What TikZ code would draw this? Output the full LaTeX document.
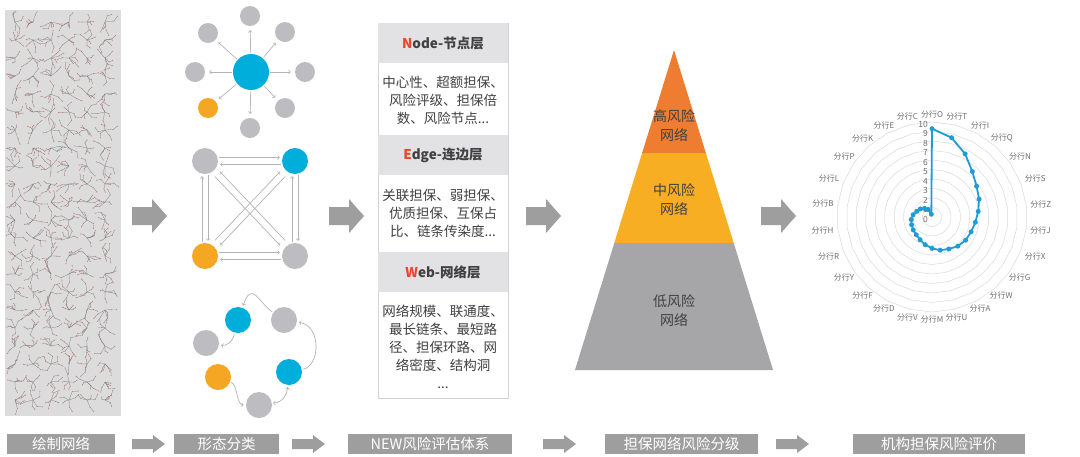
\documentclass[tikz,border=0pt]{standalone}
\usepackage{fontspec}
\setmainfont{Noto Sans CJK SC}
\usepackage{tikz}
\usetikzlibrary{calc}

\definecolor{hubblue}{HTML}{00AEDB}
\definecolor{nodegray}{HTML}{BDBDC1}
\definecolor{nodeorange}{HTML}{F5A623}
\definecolor{linkgray}{HTML}{B4B4B8}
\definecolor{arrowgray}{HTML}{9E9E9E}
\definecolor{panelgray}{HTML}{DCDCDC}
\definecolor{headgray}{HTML}{E2E2E4}
\definecolor{framegray}{HTML}{D4D4D4}
\definecolor{textdark}{HTML}{404040}
\definecolor{riskred}{HTML}{E8472B}
\definecolor{highrisk}{HTML}{EF7D31}
\definecolor{midrisk}{HTML}{F8AE22}
\definecolor{lowrisk}{HTML}{A6A6A9}
\definecolor{ringgray}{HTML}{DADADA}
\definecolor{seriesblue}{HTML}{1F9BD5}
\definecolor{labelgray}{HTML}{6E6E6E}
\definecolor{netgray}{HTML}{707070}
\definecolor{netred}{HTML}{D0706C}

\tikzset{
  ball/.style={circle, fill=nodegray, inner sep=0pt, minimum size=20pt},
  hub/.style={ball, fill=hubblue, minimum size=36pt},
  bigball/.style={ball, minimum size=26pt},
  link/.style={->, linkgray, line width=0.7pt, shorten >=2pt, shorten <=1pt},
  layerhead/.style={fill=headgray, minimum width=130pt, minimum height=40pt, inner sep=0pt,
    font=\bfseries\fontsize{13.5}{16}\selectfont, text=textdark},
  layerbody/.style={font=\fontsize{13.5}{18}\selectfont, text=textdark, align=center, inner sep=0pt},
  risktext/.style={font=\fontsize{14}{19}\selectfont, text=textdark, align=center},
  steplbl/.style={fill=arrowgray, text=white, font=\fontsize{14.5}{16}\selectfont,
    minimum height=20pt, inner sep=0pt},
  catlbl/.style={font=\fontsize{8}{8}\selectfont, text=labelgray, inner sep=1pt},
  ticklbl/.style={font=\fontsize{8.5}{8}\selectfont, text=labelgray, anchor=east, inner sep=1pt},
  ring/.style={ringgray, line width=0.5pt},
  series/.style={seriesblue, line width=1.8pt, line join=round},
  datadot/.style={circle, fill=seriesblue, inner sep=0pt, minimum size=5pt},
  netline/.style={netgray, line width=0.2pt},
  netdot/.style={circle, fill=netred, inner sep=0pt, minimum size=1pt},
  bigarrow/.pic={\fill[arrowgray] (0,-9) -- (20,-9) -- (20,-17) -- (35,0) -- (20,17) -- (20,9) -- (0,9) -- cycle;},
  smallarrow/.pic={\fill[arrowgray] (0,-5) -- (21,-5) -- (21,-9) -- (33,0) -- (21,9) -- (21,5) -- (0,5) -- cycle;}
}

\begin{document}
\begin{tikzpicture}[x=1pt,y=-1pt]
\useasboundingbox[fill=white] (0,0) rectangle (1080,456);

% networks drawn from the data
\fill[panelgray] (5,10) rectangle (121,416);
\begin{scope}
  \clip (6,11) rectangle (120,415);
  \pgfmathsetseed{42}
  \foreach \cy in {22,40,...,400}{
    \foreach \cx in {15,33,...,105}{
      \foreach \k in {1,...,5}{
        \pgfmathsetmacro{\ang}{360*rnd}
        \pgfmathsetmacro{\len}{3+6*rnd}
        \pgfmathsetmacro{\turn}{\ang+70*rand}
        \draw[netline] (\cx,\cy) -- ++(\ang:\len) node[netdot]{} -- ++(\turn:0.7*\len) node[netdot]{};
      }
    }
  }
\end{scope}

% star
\node[hub] (hub) at (251,72) {};
\node[ball] (s1) at (250,16) {};
\node[ball] (s2) at (285,32) {};
\node[ball] (s3) at (305,72) {};
\node[ball] (s4) at (285,108) {};
\node[ball] (s5) at (250,128) {};
\node[ball, fill=nodeorange] (s6) at (208,108) {};
\node[ball] (s7) at (195,72) {};
\node[ball] (s8) at (208,33) {};
\foreach \s in {s1,s2,s3,s4,s5,s6,s7,s8}
  \draw[link, shorten >=4pt] (hub) -- (\s);

% square
\node[bigball] (tl) at (205,161) {};
\node[bigball, fill=hubblue] (tr) at (295,161) {};
\node[bigball, fill=nodeorange] (bl) at (205,256) {};
\node[bigball] (br) at (295,256) {};
\draw[link, transform canvas={shift={(0,-3.5)}}] (tl) -- (tr);
\draw[link, transform canvas={shift={(0,3.5)}}] (tr) -- (tl);
\draw[link, transform canvas={shift={(0,-3.5)}}] (bl) -- (br);
\draw[link, transform canvas={shift={(0,3.5)}}] (br) -- (bl);
\draw[link, transform canvas={shift={(-3,0)}}] (bl) -- (tl);
\draw[link, transform canvas={shift={(3,0)}}] (tl) -- (bl);
\draw[link, transform canvas={shift={(-3,0)}}] (br) -- (tr);
\draw[link, transform canvas={shift={(3,0)}}] (tr) -- (br);
\draw[link, shorten <=5pt, shorten >=5pt, transform canvas={shift={(2.5,-2.5)}}] (br) -- (tl);
\draw[link, shorten <=5pt, shorten >=5pt, transform canvas={shift={(-2.5,2.5)}}] (tl) -- (br);
\draw[link, shorten <=5pt, shorten >=5pt, transform canvas={shift={(-2.5,-2.5)}}] (bl) -- (tr);
\draw[link, shorten <=5pt, shorten >=5pt, transform canvas={shift={(2.5,2.5)}}] (tr) -- (bl);

% cycle
\node[bigball, fill=hubblue] (c1) at (238,320) {};
\node[bigball] (c2) at (284,320) {};
\node[bigball] (c3) at (206,343) {};
\node[bigball, fill=nodeorange] (c4) at (218,377) {};
\node[bigball, fill=hubblue] (c5) at (289,372) {};
\node[bigball] (c6) at (259,405) {};
\draw[link] (c2) .. controls (258,302) and (252,280) .. (c1);
\draw[link] (c1) .. controls (232,343) and (226,346) .. (c3);
\draw[link] (c5) .. controls (320,366) and (322,326) .. (c2);
\draw[link] (c4) .. controls (238,385) and (236,405) .. (c6);
\draw[link, <->] (c6) .. controls (283,402) and (287,395) .. (c5);

% layers
\draw[framegray, fill=white] (378,23) rectangle (508,398);
\node[layerhead] (nodehead) at (443,43) {\textcolor{riskred}{N}ode-节点层};
\node[layerbody] (nodebody) at (443,100) {中心性、超额担保、\\风险评级、担保倍\\数、风险节点...};
\node[layerhead] (edgehead) at (443,155) {\textcolor{riskred}{E}dge-连边层};
\node[layerbody] (edgebody) at (443,213) {关联担保、弱担保、\\优质担保、互保占\\比、链条传染度...};
\node[layerhead] (webhead) at (443,272) {\textcolor{riskred}{W}eb-网络层};
\node[layerbody] (webbody) at (443,347) {网络规模、联通度、\\最长链条、最短路\\径、担保环路、网\\络密度、结构洞\\...};

% pyramid
\coordinate (apex) at (674,50);
\coordinate (bl) at (575,370);
\coordinate (br) at (773,370);
\fill[lowrisk] ($(apex)!.603!(bl)$) -- (bl) -- (br) -- ($(apex)!.603!(br)$) -- cycle;
\fill[midrisk] ($(apex)!.322!(bl)$) -- ($(apex)!.603!(bl)$) -- ($(apex)!.603!(br)$) -- ($(apex)!.322!(br)$) -- cycle;
\fill[highrisk] (apex) -- ($(apex)!.322!(bl)$) -- ($(apex)!.322!(br)$) -- cycle;
\node[risktext] (high) at (674,126) {高风险\\网络};
\node[risktext] (mid) at (674,200) {中风险\\网络};
\node[risktext] (low) at (674,311) {低风险\\网络};

% radar
\begin{scope}[shift={(932,217)}]
  \foreach \k in {1,...,10}
    \draw[ring] (-90:{\k*9.5}) \foreach \i in {1,...,25}{ -- ({-90+\i*360/26}:{\k*9.5})} -- cycle;
  \foreach \k in {0,...,10}
    \node[ticklbl] (t\k) at (-3,{-9.5*\k+2}) {\k};
  \foreach \n [count=\i from 0] in {O,T,I,Q,N,S,Z,J,X,G,W,A,U,M,V,D,F,Y,R,H,B,L,P,K,E,C}{
    \pgfmathsetmacro{\anc}{270-\i*360/26}
    \node[catlbl, anchor=\anc] (b\n) at ({-90+\i*360/26}:98) {分行\n};
  }
  \foreach \v [count=\i from 0] in {9.3,8.6,7.5,6.4,5.7,5.3,4.9,4.6,4.4,4.3,4.1,3.8,3.6,3.3,3.0,2.7,2.5,2.4,2.3,2.2,2.0,1.7,1.5,1.2,0.9,0.3}
    \coordinate (p\i) at ({-90+\i*360/26}:{\v*9.5});
  \draw[series] (p0) \foreach \i in {1,...,25}{ -- (p\i)} -- cycle;
  \foreach \i in {0,...,25}
    \node[datadot] (d\i) at (p\i) {};
\end{scope}

% arrows
\pic at (132,216) {bigarrow};
\pic at (329,216) {bigarrow};
\pic at (526,216) {bigarrow};
\pic at (761,216) {bigarrow};

% steps
\node[steplbl, minimum width=108pt] (st1) at (61,444) {绘制网络};
\node[steplbl, minimum width=105pt] (st2) at (226.5,444) {形态分类};
\node[steplbl, minimum width=164pt] (st3) at (430,444) {NEW风险评估体系};
\node[steplbl, minimum width=153pt] (st4) at (681.5,444) {担保网络风险分级};
\node[steplbl, minimum width=172pt] (st5) at (939,444) {机构担保风险评价};
\pic at (132,444) {smallarrow};
\pic at (292,444) {smallarrow};
\pic at (543,444) {smallarrow};
\pic at (776,444) {smallarrow};
\end{tikzpicture}
\end{document}
